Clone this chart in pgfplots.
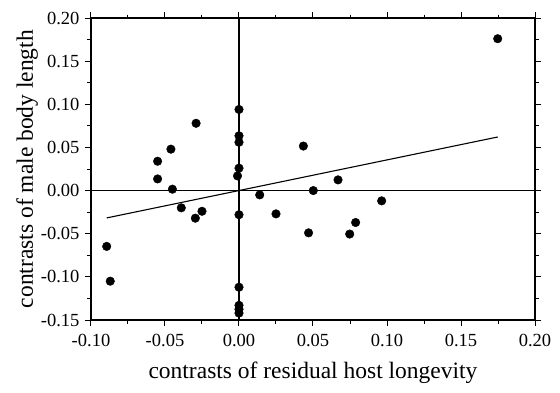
\documentclass[border=0pt]{standalone}
\usepackage{pgfplots}
\pgfplotsset{compat=1.18}
\usepackage{fontspec}
\setmainfont{Liberation Serif}
\begin{document}
\begin{tikzpicture}
\begin{axis}[
  scale only axis,
  width=444pt, height=302pt,
  at={(0,0)}, anchor=south west,
  xmin=-0.10, xmax=0.20, ymin=-0.15, ymax=0.20,
  xtick={-0.10,-0.05,0,0.05,0.10,0.15,0.20},
  ytick={-0.15,-0.10,-0.05,0,0.05,0.10,0.15,0.20},
  minor tick num=1,
  tick align=outside,
  major tick length=6pt, minor tick length=3.5pt,
  axis line style={line width=1.5pt},
  every tick/.style={black, line width=1pt},
  /pgf/number format/assume math mode=true,
  /pgf/number format/fixed, /pgf/number format/fixed zerofill,
  /pgf/number format/precision=2,
  tick label style={font=\fontsize{18.5}{20}\selectfont},
  xticklabel style={yshift=-5pt},
  yticklabel style={xshift=-2pt},
  xlabel={contrasts of residual host longevity},
  ylabel={contrasts of male body length},
  label style={font=\fontsize{23.5}{26}\selectfont},
  xlabel style={at={(axis description cs:0.5,-0.175)}, anchor=center},
  ylabel style={at={(axis description cs:-0.144,0.5)}, anchor=center},
  clip=false,
]
\addplot[black, line width=1.5pt] coordinates {(-0.10,0) (0.20,0)};
\addplot[black, line width=1.5pt] coordinates {(0,-0.15) (0,0.20)};
\addplot[black, line width=1.1pt] coordinates {(-0.0894,-0.0317) (0.1748,0.0621)};
\addplot[only marks, mark=*, mark size=4.3pt, black] coordinates {
(-0.0894,-0.0647)
(-0.087,-0.105)
(-0.055,0.034)
(-0.055,0.0135)
(-0.046,0.048)
(-0.045,0.0016)
(-0.039,-0.020)
(-0.0295,-0.032)
(-0.029,0.078)
(-0.025,-0.024)
(-0.001,0.017)
(0,0.026)
(0,0.056)
(0,0.0635)
(0,0.094)
(0,-0.028)
(0,-0.112)
(0,-0.133)
(0,-0.1375)
(0,-0.142)
(0.014,-0.005)
(0.025,-0.027)
(0.0435,0.0516)
(0.047,-0.049)
(0.0502,0)
(0.0669,0.0124)
(0.0748,-0.0504)
(0.0788,-0.037)
(0.0964,-0.0119)
(0.1748,0.176)
};
\end{axis}
\path (-91pt,-72pt) rectangle (469pt,320pt);
\end{tikzpicture}
\end{document}
